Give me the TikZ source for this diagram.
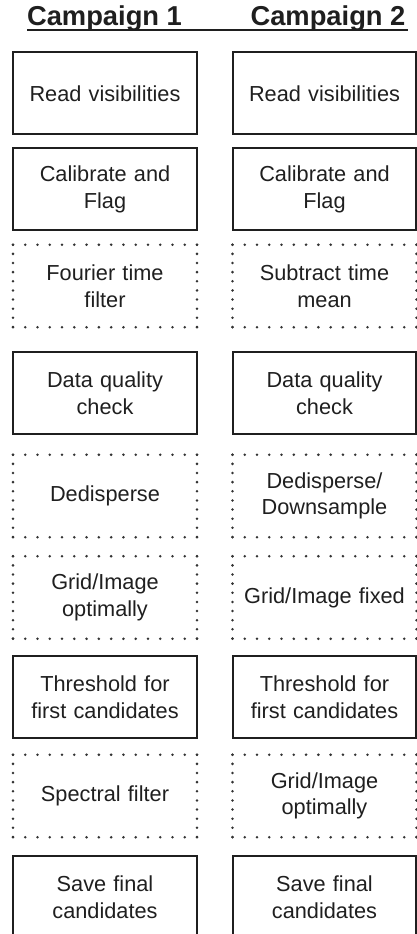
\documentclass[tikz,border=0pt]{standalone}
\usepackage{fontspec}
\setmainfont{Liberation Sans}
\begin{document}
\begin{tikzpicture}[x=0.75pt,y=-0.75pt,
  every node/.style={font=\fontsize{16.3}{20}\selectfont, text=black!88, align=center},
  stage/.style={minimum width=137.6pt, minimum height=61.5pt, inner sep=0pt, text width=130pt},
  solidbox/.style={stage, draw=black!88, line width=1.5pt},
  dotbox/.style={stage},
  dotsH/.style={draw=black!80, line width=2.1pt, line cap=round, dash pattern=on 0pt off 9.2pt},
  dotsV/.style={draw=black!80, line width=2.1pt, line cap=round, dash pattern=on 0pt off 6.85pt},
  head/.style={font=\fontsize{20.5}{24}\selectfont\bfseries, anchor=base}]
\useasboundingbox (0,0) rectangle (417,934);

% column headings with a shared underline
\node[head] (h1) at (104.5,26) {Campaign 1};
\node[head] (h2) at (328,26) {Campaign 2};
\coordinate (ulA) at (27,30);
\coordinate (ulB) at (408,30);
\draw[line width=1.6pt, black!88] (ulA) -- (ulB);

% Campaign 1 pipeline
\node[solidbox] (a1) at (105,93.5)  {Read visibilities};
\node[solidbox] (a2) at (105,189.5) {Calibrate and\\Flag};
\node[dotbox]   (a3) at (105,286)   {Fourier time\\filter};
\node[solidbox] (a4) at (105,393)   {Data quality\\check};
\node[dotbox]   (a5) at (105,496)   {Dedisperse};
\node[dotbox]   (a6) at (105,597.5) {Grid/Image\\optimally};
\node[solidbox] (a7) at (105,697)   {Threshold for\\first candidates};
\node[dotbox]   (a8) at (105,796)   {Spectral filter};
\node[solidbox] (a9) at (105,897)   {Save final\\candidates};

% Campaign 2 pipeline
\node[solidbox] (b1) at (324.5,93.5)  {Read visibilities};
\node[solidbox] (b2) at (324.5,189.5) {Calibrate and\\Flag};
\node[dotbox]   (b3) at (324.5,286)   {Subtract time\\mean};
\node[solidbox] (b4) at (324.5,393)   {Data quality\\check};
\node[dotbox]   (b5) at (324.5,496)   {Dedisperse/\\Downsample};
\node[dotbox]   (b6) at (324.5,597.5) {Grid/Image fixed};
\node[solidbox] (b7) at (324.5,697)   {Threshold for\\first candidates};
\node[dotbox]   (b8) at (324.5,796)   {Grid/Image\\optimally};
\node[solidbox] (b9) at (324.5,897)   {Save final\\candidates};

% dotted outlines for the optional stages
\foreach \n in {a3,a5,a6,a8,b3,b5,b6,b8}{
  \draw[dotsH] (\n.north west) -- (\n.north east);
  \draw[dotsH] (\n.south west) -- (\n.south east);
  \draw[dotsV] (\n.north west) -- (\n.south west);
  \draw[dotsV] (\n.north east) -- (\n.south east);
}
\end{tikzpicture}
\end{document}
